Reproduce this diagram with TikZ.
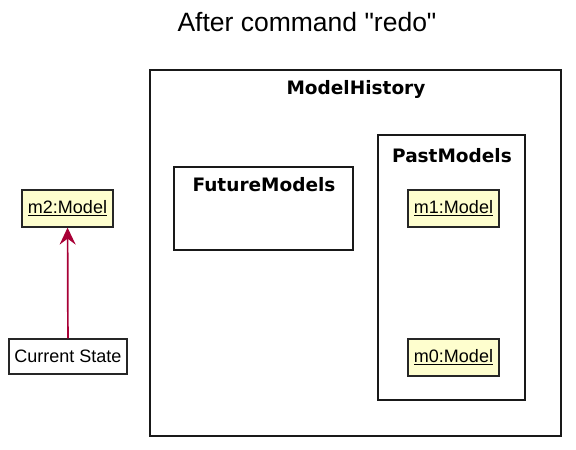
\documentclass[tikz,border=0pt]{standalone}
\usepackage{fontspec}
\setmainfont{Liberation Sans}
\newfontfamily\titlefont{Liberation Sans}[Ligatures=TeXOff]
\newfontfamily\boldfam{DejaVu Sans Bold}
\usetikzlibrary{arrows.meta}
\definecolor{objfill}{HTML}{FEFECE}
\definecolor{arrowred}{HTML}{A80036}
\tikzset{
  obj/.style={draw=black!85, fill=objfill, line width=1.2pt, minimum width=91pt, minimum height=37pt, inner sep=0pt, font=\fontsize{18}{21}\selectfont},
  plain/.style={draw=black!85, fill=white, line width=1.2pt, minimum width=118pt, minimum height=35pt, inner sep=0pt, font=\fontsize{18}{21}\selectfont},
  frame/.style={draw=black!90, line width=2pt},
  framelabel/.style={font=\boldfam\fontsize{18.5}{22}\selectfont, inner sep=0pt},
  link/.style={draw=arrowred, line width=1.7pt, -{Stealth[length=17pt,width=16pt,inset=6pt]}}
}
\begin{document}
\begin{tikzpicture}[x=1pt,y=-1pt]
\useasboundingbox (0,0) rectangle (576,450);
\node[font=\titlefont\fontsize{26.5}{30}\selectfont, inner sep=0pt] (title) at (307,22) {After command "redo"};
\draw[frame] (150,70) rectangle (561,436);
\node[framelabel] (mh) at (356,89) {ModelHistory};
\draw[frame] (174,167) rectangle (353,250);
\node[framelabel] (fm) at (264,185) {FutureModels};
\draw[frame] (378,135) rectangle (525,400);
\node[framelabel] (pm) at (452,156) {PastModels};
\node[obj] (m2) at (67.5,208.5) {\underline{m2:Model}};
\node[plain] (cs) at (68,356.5) {Current State};
\node[obj] (m1) at (453.5,208.5) {\underline{m1:Model}};
\node[obj] (m0) at (453.5,357.5) {\underline{m0:Model}};
\draw[link] (cs) -- (m2);
\end{tikzpicture}
\end{document}
